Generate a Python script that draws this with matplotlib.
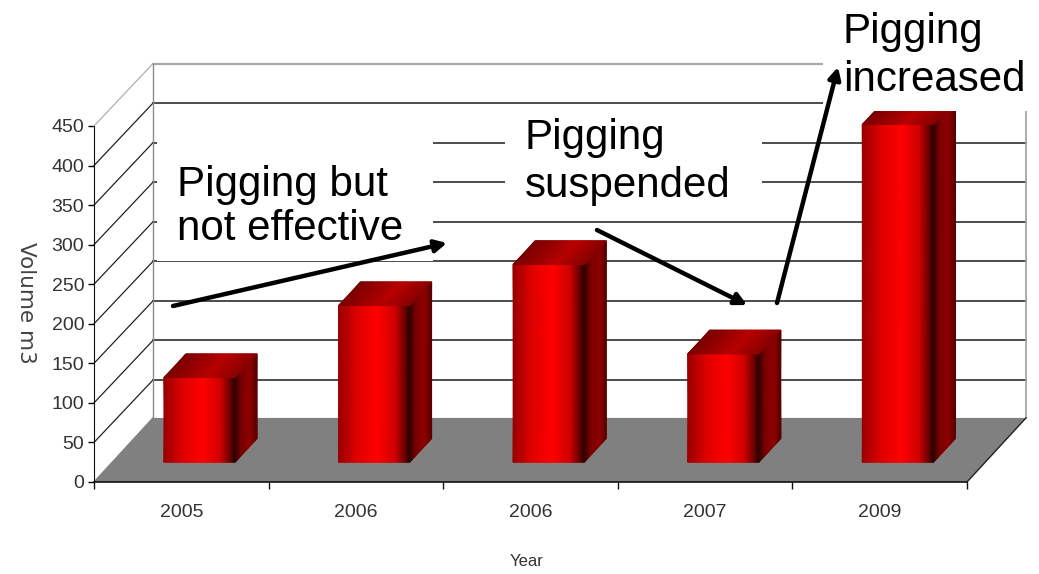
"""
3D looking bar chart of pigging volume per year
"""

import numpy as np
import matplotlib
matplotlib.use('Agg')
import matplotlib.pyplot as plt
from matplotlib.colors import LinearSegmentedColormap
from matplotlib.patches import Polygon, Rectangle

years = ['2005', '2006', '2006', '2007', '2009']
volumes = [107, 198, 250, 137, 427]
y_ticks = [0, 50, 100, 150, 200, 250, 300, 350, 400, 450]

W, H = 1039, 574
# 3D offsets, in data units
WALL_DX, WALL_DY = 0.338, 81
GRID_DY = 79
BAR_DX, BAR_DY = 0.104, 25
BAR_W = 0.407
SIDE_DX, SIDE_DY = 0.126, 30

front_cmap = LinearSegmentedColormap.from_list('front', [
    (0, '#9a0000'), (0.25, '#dc0000'), (0.55, '#ff0000'),
    (0.8, '#d00000'), (0.95, '#600000'), (1, '#200000')])
side_cmap = LinearSegmentedColormap.from_list('side', [
    (0, '#300000'), (0.3, '#7a0000'), (0.7, '#900000'), (1, '#5a0000')])
top_cmap = LinearSegmentedColormap.from_list('top', [
    (0, '#7a0000'), (0.6, '#b80000'), (1, '#8a0000')])


def shade(ax, x_bot, y_bot, x_top, y_top, cmap):
    # one face of a bar, colour runs left to right
    X = np.array([x_bot, x_top])
    Y = np.array([y_bot, y_top])
    C = np.tile(np.linspace(0, 1, X.shape[1]), (2, 1))
    ax.pcolormesh(X, Y, C, cmap=cmap, shading='gouraud', vmin=0, vmax=1,
                  clip_on=False, zorder=4, rasterized=True)


def draw_bar(ax, pos, value):
    t = np.linspace(0, 1, 40)
    x0 = pos + 0.5 + BAR_DX - BAR_W / 2
    x1 = x0 + BAR_W
    base = BAR_DY
    top = BAR_DY + value
    xs = x0 + t * BAR_W
    shade(ax, xs, base + 0 * t, xs, top + 0 * t, front_cmap)
    xs = x1 + t * SIDE_DX
    shade(ax, xs, base + t * SIDE_DY, xs, top + t * SIDE_DY, side_cmap)
    xs = x0 + t * BAR_W
    shade(ax, xs, top + 0 * t, xs + SIDE_DX, top + SIDE_DY + 0 * t, top_cmap)


fig = plt.figure(figsize=(W / 100, H / 100), dpi=100)
ax = fig.add_axes([94 / W, 1 - 482 / H, 873 / W, 356 / H])
ax.patch.set_alpha(0)

n = len(years)
# floor
ax.add_patch(Polygon([(0, 0), (WALL_DX, WALL_DY), (n + WALL_DX, WALL_DY), (n, 0)],
                     closed=True, facecolor='#808080', edgecolor='none',
                     clip_on=False, zorder=1))

# back wall grid and the diagonals on the left side
for v in y_ticks[1:]:
    last = v == y_ticks[-1]
    col = '#a8a8a8' if last else '#2e2e2e'
    lw = 1.6 if last else 1.2
    ax.plot([WALL_DX, n + WALL_DX], [v + GRID_DY] * 2, color=col, lw=lw,
            clip_on=False, zorder=2)
    ax.plot([0, WALL_DX], [v, v + GRID_DY], color='#b0b0b0' if last else '#222222',
            lw=0.9, clip_on=False, zorder=2)
ax.plot([WALL_DX, WALL_DX], [WALL_DY, y_ticks[-1] + GRID_DY], color='#8c8c8c', lw=1,
        clip_on=False, zorder=2)
ax.plot([n + WALL_DX, n + WALL_DX], [WALL_DY, y_ticks[-1] + GRID_DY], color='#a0a0a0',
        lw=1.2, clip_on=False, zorder=2)
ax.plot([0, WALL_DX], [0, WALL_DY], color='#808080', lw=1, clip_on=False, zorder=2)
ax.plot([n, n + WALL_DX], [0, WALL_DY], color='#222222', lw=1, clip_on=False, zorder=2)

for i, val in enumerate(volumes):
    draw_bar(ax, i, val)

ax.set_xlim(0, n)
ax.set_ylim(0, 450)
ax.spines['top'].set_visible(False)
ax.spines['right'].set_visible(False)
ax.spines['left'].set_color('#111111')
ax.spines['bottom'].set_color('#111111')
ax.spines['bottom'].set_linewidth(1.2)
ax.spines['left'].set_zorder(6)
ax.spines['bottom'].set_zorder(6)

ax.set_xticks(range(n + 1))
ax.set_xticklabels([])
ax.set_xticks(np.arange(n) + 0.5, years, minor=True)
ax.tick_params(axis='x', which='major', length=5, width=1, color='#111111')
ax.tick_params(axis='x', which='minor', length=0, pad=16, labelsize=14, labelcolor='#333333')
ax.set_yticks(y_ticks)
ax.tick_params(axis='y', length=4, width=1, pad=3, labelsize=14, labelcolor='#333333')
for lab in ax.get_xticklabels(minor=True) + ax.get_yticklabels():
    lab.set_family('Liberation Sans')

# overlay in image pixels for the pasted on boxes, callouts and axis titles
over = fig.add_axes([0, 0, 1, 1])
over.set_xlim(0, W)
over.set_ylim(H, 0)
over.axis('off')
over.patch.set_alpha(0)

# white boxes behind the callouts, they hide part of the grid
for x, y, w, h in [(157, 108, 276, 153), (505, 106, 257, 110), (823, 0, 216, 111)]:
    over.add_patch(Rectangle((x, y), w, h, facecolor='white', edgecolor='none'))

for txt, x, y, sp in [('Pigging but\nnot effective', 177, 207, 1.15),
                      ('Pigging\nsuspended', 525, 162, 1.23),
                      ('Pigging\nincreased', 843, 56, 1.28)]:
    over.text(x, y, txt, family='Liberation Sans', fontsize=30.3, color='black',
              ha='left', va='center', linespacing=sp)

for start, end in [((173, 306), (447, 243)),
                   ((597, 230), (747, 305)),
                   ((777, 303), (838, 67))]:
    over.annotate('', xy=end, xytext=start,
                  arrowprops=dict(arrowstyle='-|>,head_width=0.36,head_length=0.7',
                                  color='black', lw=3.2, shrinkA=0, shrinkB=0))

over.text(527, 562, 'Year', family='Liberation Sans', fontsize=12, color='#333333',
          ha='center', va='center')
over.text(26, 303, 'Volume m3', family='DejaVu Sans', fontsize=15.5, color='#444444',
          ha='center', va='center', rotation=270)

plt.savefig('out.png', dpi=100)
plt.close()
